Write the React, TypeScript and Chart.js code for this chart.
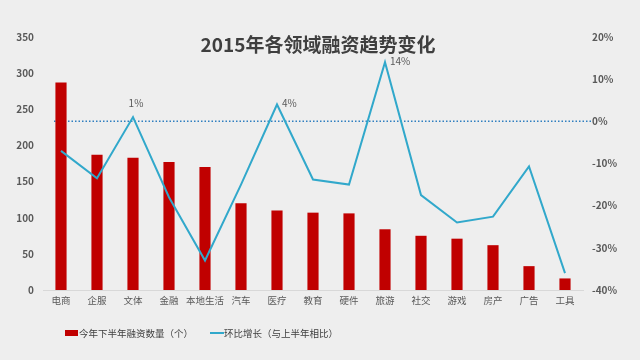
import React, { useEffect, useRef } from "react";
import { Chart, registerables } from "chart.js";

Chart.register(...registerables);

const title = "2015年各领域融资趋势变化";
const categories = ["电商", "企服", "文体", "金融", "本地生活", "汽车", "医疗", "教育", "硬件", "旅游", "社交", "游戏", "房产", "广告", "工具"];
const fundingCount = [287, 187, 183, 177, 170, 120, 110, 107, 106, 84, 75, 71, 62, 33, 16];
const growthPct = [-7, -13.5, 1, -18, -33, -15, 4, -13.8, -15, 14, -17.5, -24, -22.6, -10.7, -36];
const barLabel = "今年下半年融资数量（个）";
const lineLabel = "环比增长（与上半年相比）";
const leftTicks = [0, 50, 100, 150, 200, 250, 300, 350];
const rightTicks = [-40, -30, -20, -10, 0, 10, 20];

const RED = "#c00000";
const BLUE = "#31a8cb";
const TEXT = "#595959";
const FONT = "'Noto Sans CJK SC', 'Noto Sans', sans-serif";

const overlayPlugin = {
  id: "overlay",
  beforeDatasetsDraw(chart: any) {
    const { ctx, chartArea, scales } = chart;
    const y0 = scales.y1.getPixelForValue(0);
    const xStart = scales.x.getPixelForValue(0) - 7;
    ctx.save();
    ctx.strokeStyle = "#2f7fc0";
    ctx.lineWidth = 1.5;
    ctx.setLineDash([1.5, 2]);
    ctx.beginPath();
    ctx.moveTo(xStart, y0);
    ctx.lineTo(chartArea.right + 8, y0);
    ctx.stroke();
    ctx.restore();
  },
  afterDraw(chart: any) {
    const { ctx, scales } = chart;
    ctx.save();
    // title
    ctx.fillStyle = "#3f3f3f";
    ctx.font = `bold 19px ${FONT}`;
    ctx.textAlign = "center";
    ctx.textBaseline = "middle";
    ctx.fillText(title, 318, 45);

    // point labels for non-negative growth
    ctx.font = `10px ${FONT}`;
    ctx.fillStyle = TEXT;
    growthPct.forEach((v, i) => {
      if (v < 0) return;
      const x = scales.x.getPixelForValue(i);
      const y = scales.y1.getPixelForValue(v);
      const txt = `${Math.round(v)}%`;
      if (i === 2) {
        ctx.textAlign = "center";
        ctx.fillText(txt, x + 3, y - 14);
      } else {
        ctx.textAlign = "left";
        ctx.fillText(txt, x + 5, y - 1);
      }
    });

    // legend
    const ly = 333;
    ctx.textAlign = "left";
    ctx.textBaseline = "middle";
    ctx.font = `9.5px ${FONT}`;
    ctx.fillStyle = RED;
    ctx.fillRect(65, ly - 3, 13, 6);
    ctx.fillStyle = "#404040";
    ctx.fillText(barLabel, 79, ly);
    ctx.strokeStyle = BLUE;
    ctx.lineWidth = 2;
    ctx.beginPath();
    ctx.moveTo(210, ly);
    ctx.lineTo(224, ly);
    ctx.stroke();
    ctx.fillText(lineLabel, 224, ly);
    ctx.restore();
  },
};

export default function App() {
  const ref = useRef<HTMLCanvasElement | null>(null);
  useEffect(() => {
    if (!ref.current) return;
    const chart = new Chart(ref.current, {
      data: {
        labels: categories,
        datasets: [
          {
            type: "line",
            label: lineLabel,
            data: growthPct,
            yAxisID: "y1",
            borderColor: BLUE,
            backgroundColor: BLUE,
            borderWidth: 2,
            pointRadius: 0,
            tension: 0,
            order: 0,
          },
          {
            type: "bar",
            label: barLabel,
            data: fundingCount,
            yAxisID: "y",
            backgroundColor: RED,
            barPercentage: 0.62,
            categoryPercentage: 0.5,
            order: 1,
          },
        ],
      } as any,
      options: {
        responsive: false,
        animation: false,
        layout: { padding: { top: 37, bottom: 40, left: 0, right: 0 } },
        plugins: {
          legend: { display: false },
          title: { display: false },
          tooltip: { enabled: false },
        },
        scales: {
          x: {
            grid: { display: false, drawTicks: false },
            border: { display: true, color: "#d8d8d8" },
            ticks: { color: TEXT, font: { family: FONT, size: 9.5 }, padding: 5, maxRotation: 0, autoSkip: false },
            afterFit: (s: any) => { s.height = 30; },
          },
          y: {
            position: "left",
            min: 0,
            max: 350,
            afterBuildTicks: (s: any) => { s.ticks = leftTicks.map((v) => ({ value: v })); },
            grid: { display: false, drawTicks: false },
            border: { display: false },
            ticks: { color: TEXT, font: { family: FONT, size: 10, weight: "bold" }, padding: 9 },
            afterFit: (s: any) => { s.width = 43; },
          },
          y1: {
            position: "right",
            min: -40,
            max: 20,
            afterBuildTicks: (s: any) => { s.ticks = rightTicks.map((v) => ({ value: v })); },
            grid: { display: false, drawTicks: false },
            border: { display: false },
            ticks: { color: TEXT, font: { family: FONT, size: 10, weight: "bold" }, padding: 9, callback: (v: any) => `${v}%` },
            afterFit: (s: any) => { s.width = 57; },
          },
        },
      } as any,
      plugins: [overlayPlugin],
    });
    return () => chart.destroy();
  }, []);
  return (
    <div style={{ position: "fixed", left: 0, top: 0, width: 640, height: 360, background: "#eeeeee" }}>
      <canvas ref={ref} width={640} height={360} />
    </div>
  );
}
